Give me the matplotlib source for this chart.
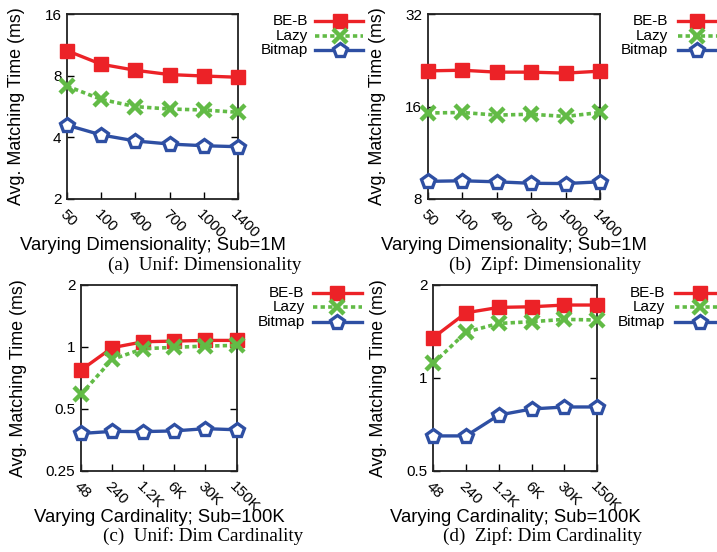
import numpy as np
import matplotlib.pyplot as plt
from matplotlib.ticker import FixedLocator, NullLocator

# x categories
dim_labels = ['50', '100', '400', '700', '1000', '1400']
card_labels = ['48', '240', '1.2K', '6K', '30K', '150K']

# (a) Unif: Dimensionality
a_beb = [10.6, 9.1, 8.5, 8.1, 7.97, 7.86]
a_lazy = [7.12, 6.13, 5.65, 5.5, 5.44, 5.3]
a_bitmap = [4.59, 4.11, 3.84, 3.71, 3.64, 3.6]

# (b) Zipf: Dimensionality
b_beb = [20.9, 21.0, 20.7, 20.7, 20.55, 20.85]
b_lazy = [15.24, 15.3, 15.0, 15.1, 14.85, 15.3]
b_bitmap = [9.13, 9.17, 9.1, 9.0, 8.98, 9.1]

# (c) Unif: Dim Cardinality
c_beb = [0.77, 0.989, 1.057, 1.065, 1.073, 1.073]
c_lazy = [0.587, 0.868, 0.978, 0.993, 1.007, 1.015]
c_bitmap = [0.379, 0.388, 0.387, 0.39, 0.40, 0.395]

# (d) Zipf: Dim Cardinality
d_beb = [1.348, 1.623, 1.689, 1.697, 1.719, 1.719]
d_lazy = [1.113, 1.405, 1.499, 1.518, 1.545, 1.537]
d_bitmap = [0.648, 0.648, 0.757, 0.792, 0.804, 0.804]

series_names = ['BE-B', 'Lazy', 'Bitmap']

RED = '#ec2227'
GREEN = '#62bb46'
BLUE = '#2e4fa3'

styles = [
    dict(color=RED, ls='-', lw=2.4, marker='s', ms=10, mfc=RED, mec=RED),
    dict(color=GREEN, ls=(0, (1.2, 0.9)), lw=2.6, marker='x', ms=10, mew=3.2),
    dict(color=BLUE, ls='-', lw=2.4, marker='p', ms=10.5, mfc='white', mec=BLUE, mew=2.4),
]
MK_KEYS = ('marker', 'ms', 'mfc', 'mec', 'mew')

plt.rcParams['font.family'] = ['Liberation Sans', 'DejaVu Sans']

fig = plt.figure(figsize=(7.17, 5.52), dpi=100)


def panel(rect, labels, data, yticks, yticklabels, xlabel, caption, cap_x, cap_y, ylab_dx):
    ax = fig.add_axes(rect)
    w = rect[2] * 717
    h = rect[3] * 552
    x = np.arange(len(labels))
    for vals, st in zip(data, styles):
        ax.plot(x, vals, clip_on=False, zorder=3, **st)
    ax.set_yscale('log', base=2)
    ax.set_ylim(yticks[0], yticks[-1])
    ax.set_xlim(0, len(labels) - 1)
    ax.yaxis.set_major_locator(FixedLocator(yticks))
    ax.set_yticklabels(yticklabels, fontsize=11)
    ax.yaxis.set_minor_locator(NullLocator())
    ax.set_xticks(x)
    ax.set_xticklabels(labels, fontsize=11, rotation=-45, ha='left', va='top',
                       rotation_mode='anchor')
    ax.tick_params(axis='y', direction='in', right=True, length=5, width=1, pad=4)
    ax.tick_params(axis='x', direction='in', length=5, width=1, pad=6)
    for s in ax.spines.values():
        s.set_linewidth(1.3)
        s.set_color('#222222')
    ax.set_xlabel(xlabel, fontsize=13.3, va='center')
    ax.xaxis.set_label_coords(0.5, -47 / h)
    ax.set_ylabel('Avg. Matching Time (ms)', fontsize=12.9, va='center')
    ax.yaxis.set_label_coords(-ylab_dx / w, 0.5)
    fig.text(cap_x, cap_y, caption, ha='center', va='center', fontsize=13.8,
             family=['Liberation Serif', 'DejaVu Serif'])
    return ax, w, h


def legend(ax, w, h, rows_y, text_dx, line_dx0, line_dx1, marker_dx):
    # legend sits right of the axes, partly cut by the figure edge
    for name, st, yy in zip(series_names, styles, rows_y):
        ax.text(1 + text_dx / w, 1 - yy / h, name, transform=ax.transAxes,
                ha='right', va='center', fontsize=11)
        ax.plot([1 + line_dx0 / w, 1 + line_dx1 / w], [1 - yy / h] * 2,
                transform=ax.transAxes, clip_on=False,
                **{k: v for k, v in st.items() if k not in MK_KEYS})
        mk = {k: v for k, v in st.items() if k in MK_KEYS}
        ax.plot([1 + marker_dx / w], [1 - yy / h], transform=ax.transAxes,
                clip_on=False, ls='none', color=st['color'], **mk)


ax, w, h = panel([0.0934, 0.6395, 0.2385, 0.3351], dim_labels,
                 [a_beb, a_lazy, a_bitmap], [2, 4, 8, 16], ['2', '4', '8', '16'],
                 'Varying Dimensionality; Sub=1M', '(a)  Unif: Dimensionality',
                 0.286, 1 - 265 / 552, 50)
legend(ax, w, h, [7, 22, 36], 70, 77, 125, 102)

ax, w, h = panel([0.5965, 0.6395, 0.2403, 0.3351], dim_labels,
                 [b_beb, b_lazy, b_bitmap], [8, 16, 32], ['8', '16', '32'],
                 'Varying Dimensionality; Sub=1M', '(b)  Zipf: Dimensionality',
                 0.760, 1 - 265 / 552, 50)
legend(ax, w, h, [7, 22, 36], 68, 78, 125, 97)

ax, w, h = panel([0.113, 0.1473, 0.217, 0.3369], card_labels,
                 [c_beb, c_lazy, c_bitmap], [0.25, 0.5, 1, 2], ['0.25', '0.5', '1', '2'],
                 'Varying Cardinality; Sub=100K', '(c)  Unif: Dim Cardinality',
                 0.283, 1 - 536.5 / 552, 63)
legend(ax, w, h, [8, 22, 37], 68, 76, 125, 100)

ax, w, h = panel([0.6043, 0.1473, 0.2287, 0.3369], card_labels,
                 [d_beb, d_lazy, d_bitmap], [0.5, 1, 2], ['0.5', '1', '2'],
                 'Varying Cardinality; Sub=100K', '(d)  Zipf: Dim Cardinality',
                 0.757, 1 - 536.5 / 552, 55)
legend(ax, w, h, [8, 22, 37], 68, 78, 125, 103)

fig.savefig('out.png', dpi=100)
